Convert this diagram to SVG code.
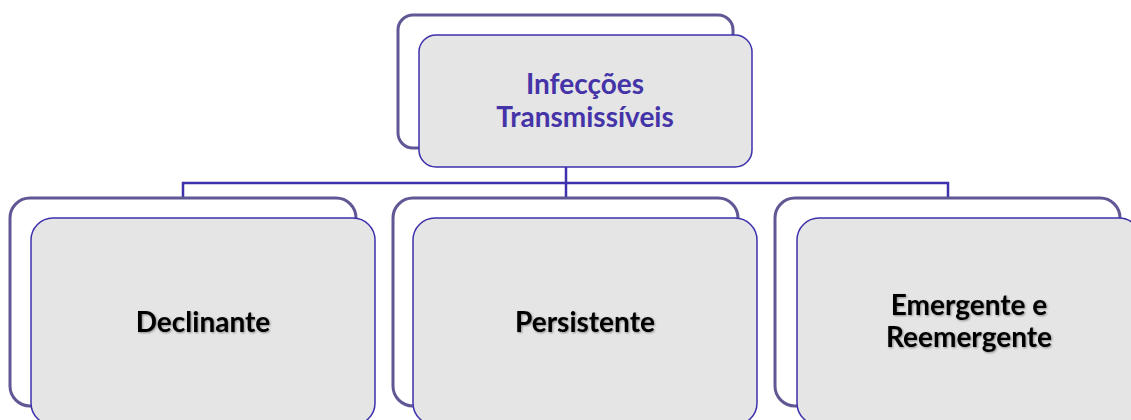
<svg xmlns="http://www.w3.org/2000/svg" width="1131" height="420" viewBox="0 0 1131 420">
<defs>
<filter id="blur" x="-5%" y="-5%" width="110%" height="110%"><feGaussianBlur stdDeviation="0.6"/></filter>
<filter id="tsh" x="-5%" y="-20%" width="110%" height="140%"><feGaussianBlur in="SourceAlpha" stdDeviation="1"/><feOffset dx="1" dy="1" result="s"/><feComponentTransfer in="s" result="s2"><feFuncA type="linear" slope="0.4"/></feComponentTransfer><feMerge><feMergeNode in="s2"/><feMergeNode in="SourceGraphic"/></feMerge></filter>
<style>
.back{fill:#ffffff;stroke:#5e5894;stroke-width:3;filter:url(#blur)}
.front{fill:#e5e5e5;stroke:#3d31ad;stroke-width:1.5}
.conn{fill:none;stroke:#3d31ad;stroke-width:2.5}
.t{font-family:Lato,"Liberation Sans",sans-serif;font-weight:bold;font-size:28px;text-anchor:middle}
.top{fill:#4434a8}
.bot{fill:#000000;filter:url(#tsh)}
</style>
</defs>
<g id="connectors">
<path class="conn" d="M566 167 V198 M183 198 V183 H948 V198"/>
</g>
<g id="node-top">
<rect class="back" x="398" y="15" width="335" height="133" rx="15"/>
<rect class="front" x="419" y="35" width="333" height="132" rx="17"/>
<text class="t top" x="585" y="94">Infecções</text>
<text class="t top" x="585" y="127">Transmissíveis</text>
</g>
<g id="node-declinante">
<rect class="back" x="10" y="198" width="346" height="208" rx="20"/>
<rect class="front" x="31" y="218" width="344" height="207" rx="22"/>
<text class="t bot" x="203" y="332">Declinante</text>
</g>
<g id="node-persistente">
<rect class="back" x="393" y="198" width="345" height="208" rx="20"/>
<rect class="front" x="413" y="218" width="344" height="207" rx="22"/>
<text class="t bot" x="585" y="332">Persistente</text>
</g>
<g id="node-emergente">
<rect class="back" x="775" y="198" width="345" height="208" rx="20"/>
<rect class="front" x="797" y="218" width="344" height="207" rx="22"/>
<text class="t bot" x="969" y="315">Emergente e</text>
<text class="t bot" x="969" y="347">Reemergente</text>
</g>
</svg>
